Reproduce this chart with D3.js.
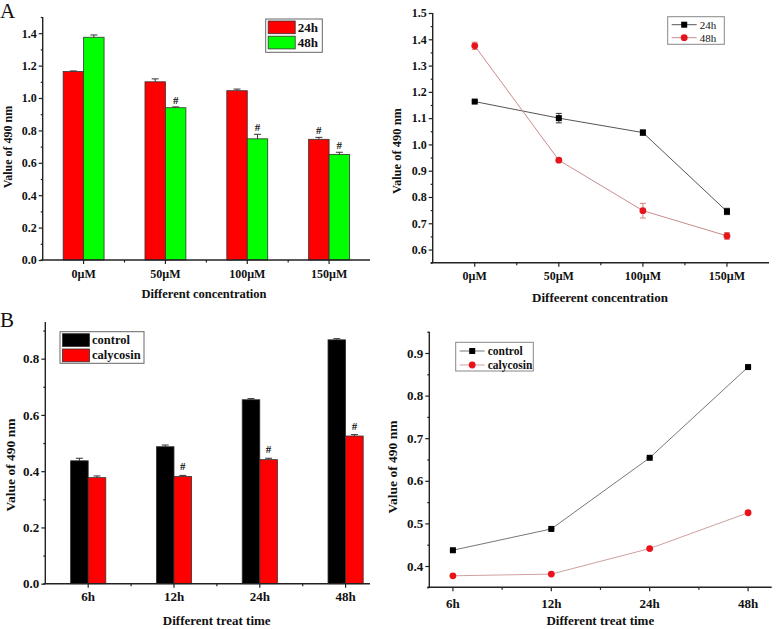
<!DOCTYPE html>
<html>
<head>
<meta charset="utf-8">
<script src="https://cdn.jsdelivr.net/npm/d3@7"></script>
<style>
  body { margin: 0; background: #fff; }
  svg { display: block; font-family: "Liberation Serif", "Times New Roman", serif; }
</style>
</head>
<body>
<div id="chart"></div>
<script>
// ---------- data ----------
const concLabels = ["0µM", "50µM", "100µM", "150µM"];
const conc24 = [1.163, 1.100, 1.045, 0.745];
const conc24Err = [0.004, 0.018, 0.010, 0.012];
const conc48 = [1.375, 0.940, 0.748, 0.652];
const conc48Err = [0.014, 0.005, 0.028, 0.013];
const conc24Sig = [false, false, false, true];
const conc48Sig = [false, true, true, true];

const timeLabels = ["6h", "12h", "24h", "48h"];
const ctrl = [0.437, 0.487, 0.654, 0.867];
const ctrlErr = [0.009, 0.006, 0.004, 0.004];
const caly = [0.377, 0.381, 0.441, 0.525];
const calyErr = [0.006, 0.004, 0.005, 0.005];
const ctrlSig = [false, false, false, false];
const calySig = [false, true, true, true];

const yTicksA1 = [0, 0.2, 0.4, 0.6, 0.8, 1.0, 1.2, 1.4];
const yTicksA2 = [0.6, 0.7, 0.8, 0.9, 1.0, 1.1, 1.2, 1.3, 1.4, 1.5];
const yTicksB1 = [0, 0.2, 0.4, 0.6, 0.8];
const yTicksB2 = [0.4, 0.5, 0.6, 0.7, 0.8, 0.9];

const svg = d3.select("#chart").append("svg")
  .attr("width", 778)
  .attr("height", 629);

// ---------- helpers ----------
function yAxis(x0, y, majors, step, fs) {
  const [lo, hi] = y.domain();
  const minors = d3.range(Math.ceil(lo / step * 2) * step / 2, hi + 1e-9, step / 2)
    .filter(v => !majors.some(m => Math.abs(m - v) < 1e-6));

  const g = svg.append("g").attr("transform", `translate(${x0},0)`);
  g.call(d3.axisLeft(y).tickValues(majors).tickSize(4).tickPadding(2).tickFormat(d3.format(".1f")));
  g.append("g").call(d3.axisLeft(y).tickValues(minors).tickSize(2).tickFormat(""));
  g.selectAll(".domain").remove();
  g.selectAll("line").attr("stroke", "#222").attr("stroke-width", 1.2);
  g.selectAll("text")
    .attr("font-family", "Liberation Serif, serif")
    .attr("font-weight", "bold")
    .attr("font-size", fs)
    .attr("fill", "#111");
  g.append("line")
    .attr("y1", y.range()[0]).attr("y2", y.range()[1])
    .attr("stroke", "#222").attr("stroke-width", 1.4);
}

function xAxis(y0, xEnd, x0, centers, labels, labelOff, fs) {
  const pos = d3.scaleOrdinal().domain(labels).range(centers);
  const mids = d3.pairs(centers).map(([a, b]) => (a + b) / 2);
  const g = svg.append("g").attr("transform", `translate(0,${y0})`);
  const ax = d3.axisBottom(pos).tickSize(4).tickFormat(d => d);
  g.call(ax);
  g.selectAll(".domain").remove();
  g.selectAll(".tick").attr("transform", d => `translate(${pos(d)},0)`);
  mids.filter(m => m < xEnd).forEach(m => {
    g.append("line").attr("x1", m).attr("x2", m).attr("y1", 0).attr("y2", 2.5)
      .attr("stroke", "#222").attr("stroke-width", 1.2);
  });
  g.selectAll("line").attr("stroke", "#222").attr("stroke-width", 1.2);
  g.selectAll("text")
    .attr("y", labelOff).attr("dy", "0.35em")
    .attr("font-family", "Liberation Serif, serif")
    .attr("font-weight", "bold")
    .attr("font-size", fs)
    .attr("fill", "#111");
  g.append("line")
    .attr("x1", x0 - 2).attr("x2", xEnd)
    .attr("stroke", "#222").attr("stroke-width", 1.4);
}

function label(x, y, text, fs, rotate) {
  svg.append("text")
    .attr("transform", `translate(${x},${y})` + (rotate ? " rotate(-90)" : ""))
    .attr("text-anchor", "middle")
    .attr("dominant-baseline", "central")
    .attr("font-weight", "bold")
    .attr("font-size", fs)
    .attr("fill", "#111")
    .text(text);
}

// ---------- bar panel ----------
function barPanel(p) {
  const x = d3.scaleBand().domain(p.labels).range(p.xRange).paddingInner(p.padIn).paddingOuter(p.padIn / 2);
  const sub = d3.scaleBand().domain(p.series.map(s => s.name)).range([0, x.bandwidth()]);
  const y = d3.scaleLinear().domain(p.yDomain).range(p.yRange);

  p.series.forEach(s => {
    const gs = svg.append("g");
    p.labels.forEach((lab, i) => {
      const bx = x(lab) + sub(s.name);
      const cx = bx + sub.bandwidth() / 2;
      gs.append("rect")
        .attr("x", bx).attr("y", y(s.values[i]))
        .attr("width", sub.bandwidth())
        .attr("height", y(p.yDomain[0]) - y(s.values[i]))
        .attr("fill", s.color).attr("stroke", "#333").attr("stroke-width", 0.8);
      const top = y(s.values[i] + s.err[i]);
      gs.append("line").attr("x1", cx).attr("x2", cx).attr("y1", y(s.values[i])).attr("y2", top)
        .attr("stroke", "#333").attr("stroke-width", 1);
      gs.append("line").attr("x1", cx - 3.5).attr("x2", cx + 3.5).attr("y1", top).attr("y2", top)
        .attr("stroke", "#333").attr("stroke-width", 1);
      if (s.sig[i]) {
        gs.append("text")
          .attr("x", cx).attr("y", top - p.sigGap)
          .attr("text-anchor", "middle").attr("dominant-baseline", "central")
          .attr("font-weight", "bold").attr("font-size", 11).attr("fill", "#111")
          .text("#");
      }
    });
  });

  yAxis(p.xRange[0], y, p.yTicks, p.yStep, p.tickFs);
  xAxis(p.yRange[0], p.xEnd, p.xRange[0], p.labels.map(l => x(l) + x.bandwidth() / 2),
        p.labels, p.labelOff, p.tickFs);
  label(p.ylabel[0], p.ylabel[1], "Value of 490 nm", p.ylabel[2], true);
  label(p.xtitle[0], p.xtitle[1], p.xtitle[3], p.xtitle[2], false);

  // legend
  const L = p.legend;
  svg.append("rect").attr("x", L.x).attr("y", L.y).attr("width", L.w).attr("height", L.h)
    .attr("fill", "#fff").attr("stroke", "#666").attr("stroke-width", 1);
  p.series.forEach((s, i) => {
    const ry = L.y + 2 + i * L.row;
    svg.append("rect").attr("x", L.x + 2.5).attr("y", ry).attr("width", 27).attr("height", L.row - 2.5)
      .attr("fill", s.color).attr("stroke", "#333").attr("stroke-width", 0.8);
    svg.append("text").attr("x", L.x + 32).attr("y", ry + (L.row - 2.5) / 2)
      .attr("dominant-baseline", "central")
      .attr("font-weight", "bold").attr("font-size", L.fs).attr("fill", "#111")
      .text(s.name);
  });
}

// ---------- line panel ----------
function marker(g, shape, cx, cy, color) {
  if (shape === "square") {
    g.append("rect").attr("x", cx - 3).attr("y", cy - 3).attr("width", 6).attr("height", 6).attr("fill", color);
  } else {
    g.append("circle").attr("cx", cx).attr("cy", cy).attr("r", 3.4).attr("fill", color);
  }
}

function linePanel(p) {
  const x = d3.scalePoint().domain(p.labels).range(p.xRange).padding(p.pad);
  const y = d3.scaleLinear().domain(p.yDomain).range(p.yRange);

  yAxis(p.xRange[0], y, p.yTicks, p.yStep, p.tickFs);
  xAxis(p.yRange[0], p.xRange[1], p.xRange[0], p.labels.map(l => x(l)), p.labels, p.labelOff, p.tickFs);

  p.series.forEach(s => {
    const gs = svg.append("g");
    const pts = p.labels.map((l, i) => [x(l), y(s.values[i])]);
    gs.append("path").attr("d", d3.line()(pts))
      .attr("fill", "none").attr("stroke", s.lineColor).attr("stroke-width", 1);
    p.labels.forEach((l, i) => {
      const cx = x(l), e = s.err[i];
      const t = y(s.values[i] + e), b = y(s.values[i] - e);
      gs.append("line").attr("x1", cx).attr("x2", cx).attr("y1", t).attr("y2", b).attr("stroke", s.errColor);
      [t, b].forEach(v => gs.append("line").attr("x1", cx - 3).attr("x2", cx + 3).attr("y1", v).attr("y2", v)
        .attr("stroke", s.errColor));
      marker(gs, s.shape, cx, y(s.values[i]), s.color);
    });
  });

  label(p.ylabel[0], p.ylabel[1], "Value of 490 nm", p.ylabel[2], true);
  label(p.xtitle[0], p.xtitle[1], p.xtitle[3], p.xtitle[2], false);

  const L = p.legend;
  svg.append("rect").attr("x", L.x).attr("y", L.y).attr("width", L.w).attr("height", L.h)
    .attr("fill", "#fff").attr("stroke", "#888").attr("stroke-width", 1);
  p.series.forEach((s, i) => {
    const ry = L.y + L.first + i * L.row;
    svg.append("line").attr("x1", L.x + 4).attr("x2", L.x + 29).attr("y1", ry).attr("y2", ry)
      .attr("stroke", s.lineColor).attr("stroke-width", 1);
    marker(svg, s.shape, L.x + 16.5, ry, s.color);
    svg.append("text").attr("x", L.x + 32).attr("y", ry)
      .attr("dominant-baseline", "central")
      .attr("font-weight", L.bold ? "bold" : "normal").attr("font-size", L.fs).attr("fill", "#111")
      .text(s.name);
  });
}

// ---------- panel A ----------
barPanel({
  labels: concLabels,
  series: [
    { name: "24h", values: conc24, err: conc24Err, sig: conc24Sig, color: "#ff0000" },
    { name: "48h", values: conc48, err: conc48Err, sig: conc48Sig, color: "#00ff00" }
  ],
  xRange: [42.7, 370], xEnd: 370, padIn: 0.5,
  yDomain: [0, 1.5], yRange: [260, 17], yTicks: yTicksA1, yStep: 0.2,
  tickFs: 12, labelOff: 14, sigGap: 7,
  ylabel: [8, 147, 12], xtitle: [204, 294, 12.5, "Different concentration"],
  legend: { x: 265.7, y: 19, w: 56.6, h: 33.3, row: 15.2, fs: 13 }
});

linePanel({
  labels: concLabels,
  series: [
    { name: "24h", values: conc24, err: conc24Err, shape: "square", color: "#000", lineColor: "#555", errColor: "#333" },
    { name: "48h", values: conc48, err: conc48Err, shape: "circle", color: "#e8141b", lineColor: "#c98c8c", errColor: "#d98080" }
  ],
  xRange: [432.7, 769], pad: 0.5,
  yDomain: [0.55, 1.5], yRange: [262.7, 13], yTicks: yTicksA2, yStep: 0.1,
  tickFs: 12, labelOff: 13,
  ylabel: [396.5, 151, 12.5], xtitle: [600, 297.7, 13, "Diffeerent concentration"],
  legend: { x: 667.7, y: 16.7, w: 56.6, h: 27.6, first: 8, row: 13, fs: 11, bold: false }
});

// ---------- panel B ----------
barPanel({
  labels: timeLabels,
  series: [
    { name: "control", values: ctrl, err: ctrlErr, sig: ctrlSig, color: "#000000" },
    { name: "calycosin", values: caly, err: calyErr, sig: calySig, color: "#ff0000" }
  ],
  xRange: [45.3, 388.5], xEnd: 370, padIn: 0.59,
  yDomain: [0, 0.93], yRange: [583.7, 322.1], yTicks: yTicksB1, yStep: 0.2,
  tickFs: 13, labelOff: 13, sigGap: 9,
  ylabel: [10.5, 465, 13.5], xtitle: [216.7, 620, 13, "Different treat time"],
  legend: { x: 60, y: 331.7, w: 84, h: 31.6, row: 15.3, fs: 12.5 }
});

linePanel({
  labels: timeLabels,
  series: [
    { name: "control", values: ctrl, err: ctrlErr.map(() => 0), shape: "square", color: "#000", lineColor: "#777", errColor: "#333" },
    { name: "calycosin", values: caly, err: calyErr.map(() => 0), shape: "circle", color: "#e8141b", lineColor: "#d0a0a0", errColor: "#d98080" }
  ],
  xRange: [429.3, 771.7], pad: 0.24,
  yDomain: [0.35, 0.95], yRange: [587.3, 331.7], yTicks: yTicksB2, yStep: 0.1,
  tickFs: 13, labelOff: 16,
  ylabel: [392.5, 467, 13.5], xtitle: [600.3, 620.5, 13, "Different treat time"],
  legend: { x: 455.7, y: 342.3, w: 77.6, h: 28.7, first: 8.7, row: 14, fs: 11.5, bold: true }
});

// panel letters
svg.append("text").attr("x", 0).attr("y", 18).attr("font-size", 21).attr("fill", "#111").text("A");
svg.append("text").attr("x", 0).attr("y", 327).attr("font-size", 21).attr("fill", "#111").text("B");
</script>
</body>
</html>
